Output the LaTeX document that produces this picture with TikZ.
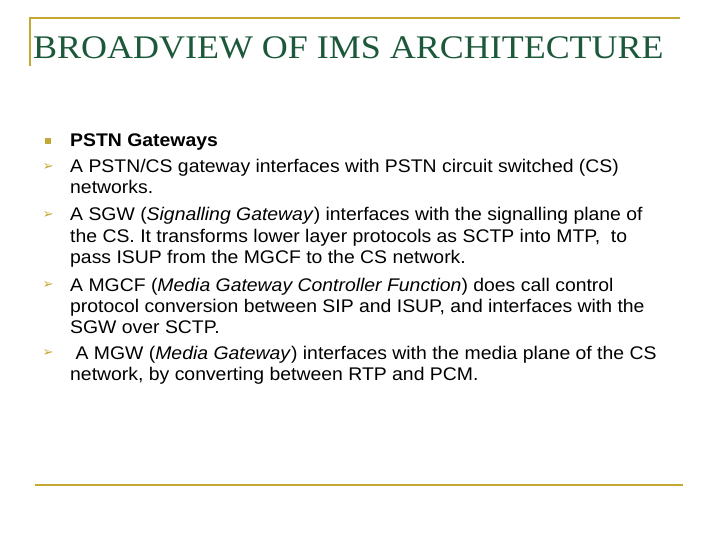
\documentclass[tikz,border=0pt]{standalone}
\usepackage{fontspec}
\setmainfont{Liberation Sans}
\newfontfamily\titlefont{Liberation Serif}
\newfontfamily\bulfont{DejaVu Sans}
\definecolor{gold}{RGB}{196,168,52}
\definecolor{tgreen}{RGB}{28,88,58}
\begin{document}
\begin{tikzpicture}[x=1pt,y=-1pt,
  ln/.style={anchor=base west,inner sep=0pt,xscale=1.06,font=\fontsize{18.3}{21}\selectfont},
  bul/.style={anchor=center,inner sep=0pt,text=gold,font=\bulfont\fontsize{13}{13}\selectfont}]
\useasboundingbox (0,0) rectangle (720,540);
\draw[gold,line width=1.2pt] (30,66) -- (30,18) -- (680,18);
\draw[gold,line width=1.2pt] (35,485) -- (683,485);
\node[anchor=base west,inner sep=0pt,text=tgreen,xscale=1.09,font=\titlefont\fontsize{33}{33}\selectfont] (title) at (33,59) {BROADVIEW OF IMS ARCHITECTURE};
\node[anchor=center,fill=gold,minimum size=6pt,inner sep=0pt] (b0) at (48,141) {};
\node[ln] (l1) at (70,147) {\bfseries PSTN Gateways};
\node[bul] (b1) at (48,167) {➢};
\node[ln] (l2) at (70,173) {A PSTN/CS gateway interfaces with PSTN circuit switched (CS)};
\node[ln] (l3) at (70,194) {networks.};
\node[bul] (b2) at (48,215) {➢};
\node[ln] (l4) at (70,221) {A SGW (\textit{Signalling Gateway}) interfaces with the signalling plane of};
\node[ln] (l5) at (70,242) {the CS. It transforms lower layer protocols as SCTP into MTP,\ \ to};
\node[ln] (l6) at (70,263) {pass ISUP from the MGCF to the CS network.};
\node[bul] (b3) at (48,285) {➢};
\node[ln] (l7) at (70,291) {A MGCF (\textit{Media Gateway Controller Function}) does call control};
\node[ln] (l8) at (70,312) {protocol conversion between SIP and ISUP, and interfaces with the};
\node[ln] (l9) at (70,333) {SGW over SCTP.};
\node[bul] (b4) at (48,353) {➢};
\node[ln] (l10) at (70,359) {\ A MGW (\textit{Media Gateway}) interfaces with the media plane of the CS};
\node[ln] (l11) at (70,380) {network, by converting between RTP and PCM.};
\end{tikzpicture}
\end{document}
